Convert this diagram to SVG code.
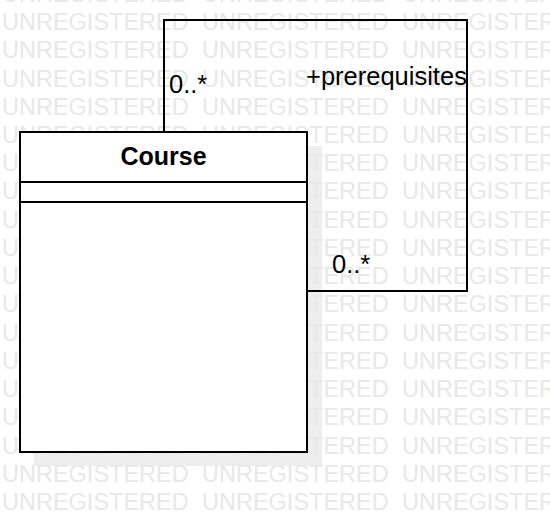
<svg xmlns="http://www.w3.org/2000/svg" width="550" height="532" viewBox="0 0 550 532">
<style>
.wm{font-family:"Liberation Sans",Arial,sans-serif;font-size:23.5px;fill:#e8e8e8}
.ln{fill:none;stroke:#000;stroke-width:2}
.lbl{font-family:"Liberation Sans",Arial,sans-serif;font-size:25.5px;fill:#000}
.ttl{font-family:"Liberation Sans",Arial,sans-serif;font-size:25px;font-weight:bold;fill:#000}
</style>
<rect width="550" height="532" fill="#fff"/>
<rect x="34" y="146" width="288" height="320" fill="#eeeeee"/>
<g id="watermark" class="wm">
<text y="1.8"><tspan x="2">UNREGISTERED</tspan><tspan x="202">UNREGISTERED</tspan><tspan x="402">UNREGISTERED</tspan></text>
<text y="30"><tspan x="2">UNREGISTERED</tspan><tspan x="202">UNREGISTERED</tspan><tspan x="402">UNREGISTERED</tspan></text>
<text y="58.2"><tspan x="2">UNREGISTERED</tspan><tspan x="202">UNREGISTERED</tspan><tspan x="402">UNREGISTERED</tspan></text>
<text y="86.5"><tspan x="2">UNREGISTERED</tspan><tspan x="202">UNREGISTERED</tspan><tspan x="402">UNREGISTERED</tspan></text>
<text y="114.7"><tspan x="2">UNREGISTERED</tspan><tspan x="202">UNREGISTERED</tspan><tspan x="402">UNREGISTERED</tspan></text>
<text y="143"><tspan x="2">UNREGISTERED</tspan><tspan x="202">UNREGISTERED</tspan><tspan x="402">UNREGISTERED</tspan></text>
<text y="171.2"><tspan x="2">UNREGISTERED</tspan><tspan x="202">UNREGISTERED</tspan><tspan x="402">UNREGISTERED</tspan></text>
<text y="199.4"><tspan x="2">UNREGISTERED</tspan><tspan x="202">UNREGISTERED</tspan><tspan x="402">UNREGISTERED</tspan></text>
<text y="227.7"><tspan x="2">UNREGISTERED</tspan><tspan x="202">UNREGISTERED</tspan><tspan x="402">UNREGISTERED</tspan></text>
<text y="255.9"><tspan x="2">UNREGISTERED</tspan><tspan x="202">UNREGISTERED</tspan><tspan x="402">UNREGISTERED</tspan></text>
<text y="284.1"><tspan x="2">UNREGISTERED</tspan><tspan x="202">UNREGISTERED</tspan><tspan x="402">UNREGISTERED</tspan></text>
<text y="312.4"><tspan x="2">UNREGISTERED</tspan><tspan x="202">UNREGISTERED</tspan><tspan x="402">UNREGISTERED</tspan></text>
<text y="340.6"><tspan x="2">UNREGISTERED</tspan><tspan x="202">UNREGISTERED</tspan><tspan x="402">UNREGISTERED</tspan></text>
<text y="368.8"><tspan x="2">UNREGISTERED</tspan><tspan x="202">UNREGISTERED</tspan><tspan x="402">UNREGISTERED</tspan></text>
<text y="397.1"><tspan x="2">UNREGISTERED</tspan><tspan x="202">UNREGISTERED</tspan><tspan x="402">UNREGISTERED</tspan></text>
<text y="425.3"><tspan x="2">UNREGISTERED</tspan><tspan x="202">UNREGISTERED</tspan><tspan x="402">UNREGISTERED</tspan></text>
<text y="453.6"><tspan x="2">UNREGISTERED</tspan><tspan x="202">UNREGISTERED</tspan><tspan x="402">UNREGISTERED</tspan></text>
<text y="481.8"><tspan x="2">UNREGISTERED</tspan><tspan x="202">UNREGISTERED</tspan><tspan x="402">UNREGISTERED</tspan></text>
<text y="510"><tspan x="2">UNREGISTERED</tspan><tspan x="202">UNREGISTERED</tspan><tspan x="402">UNREGISTERED</tspan></text>
</g>
<g id="connectors">
<polyline class="ln" points="164,132 164,20 467,20 467,291 307,291"/>
<text class="lbl" x="169" y="93">0..*</text>
<text class="lbl" x="306" y="85">+prerequisites</text>
<text class="lbl" x="332" y="273">0..*</text>
</g>
<g id="course">
<rect x="20" y="132" width="287" height="320" fill="#fff" stroke="#000" stroke-width="2"/>
<line class="ln" x1="20" y1="182" x2="307" y2="182"/>
<line class="ln" x1="20" y1="202" x2="307" y2="202"/>
<text class="ttl" x="163.5" y="165" text-anchor="middle">Course</text>
</g>
</svg>
